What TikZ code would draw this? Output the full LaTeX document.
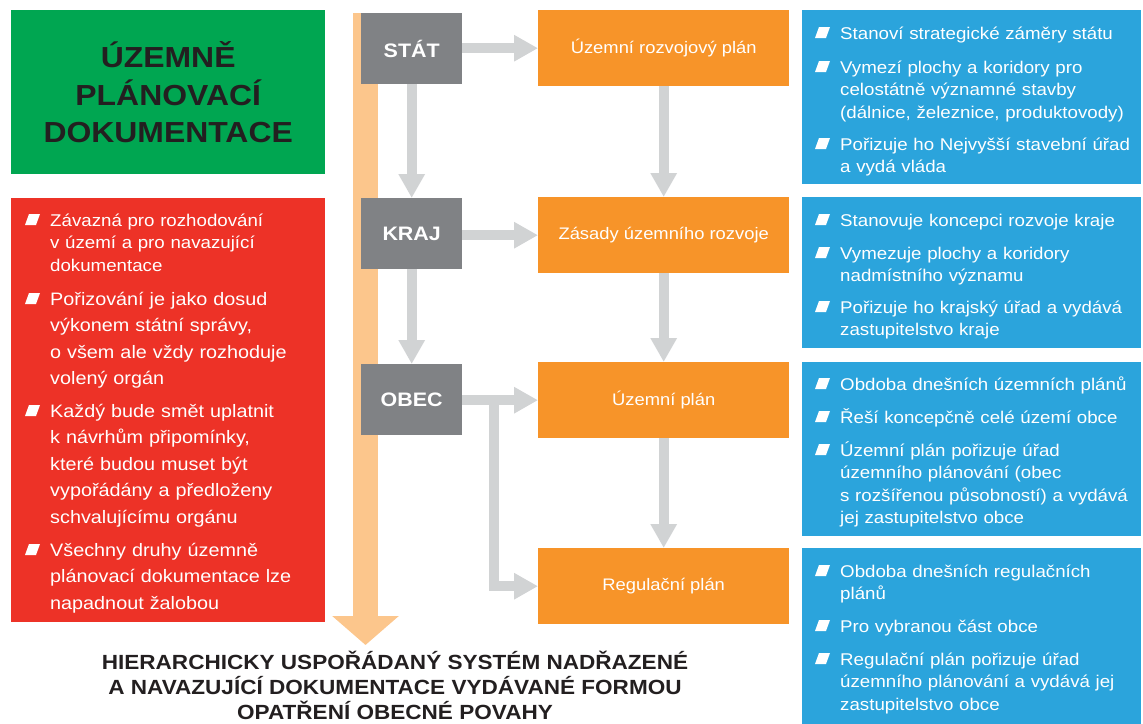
\documentclass[tikz,border=0pt]{standalone}
\usepackage{fontspec}
\setmainfont{Liberation Sans}[FakeStretch=1.1]
\usetikzlibrary{arrows.meta}

\definecolor{plangreen}{RGB}{0,166,81}
\definecolor{notered}{RGB}{237,50,39}
\definecolor{levelgray}{RGB}{128,130,133}
\definecolor{planorange}{RGB}{247,148,41}
\definecolor{flowbar}{RGB}{252,198,140}
\definecolor{infoblue}{RGB}{43,164,220}
\definecolor{arrowgray}{RGB}{209,211,212}
\definecolor{darktext}{RGB}{35,31,32}

\tikzset{
  box/.style={rectangle, inner sep=0pt, anchor=north west},
  level/.style={box, fill=levelgray, minimum width=101pt, minimum height=71pt,
    text=white, font=\fontsize{19.5}{24}\selectfont\bfseries},
  plan/.style={box, fill=planorange, minimum width=251pt, minimum height=76pt,
    text=white, font=\fontsize{16.7}{21}\selectfont},
  info/.style={box, fill=infoblue, minimum width=339pt},
  point/.style={anchor=base west, inner sep=0pt, text=white, align=left,
    text width=310pt, font=\fontsize{17}{22.5}\selectfont},
  loose/.style={font=\fontsize{18}{26.5}\selectfont},
  flow/.style={draw=arrowgray, line width=10pt, -{Triangle[length=24pt,width=25pt]}},
}

\begin{document}
\begin{tikzpicture}[x=1pt,y=-1pt]
  \useasboundingbox (0,0) rectangle (1143,723);
  \clip (0,0) rectangle (1143,723);

  % left column
  \node[box, fill=plangreen, minimum width=314pt, minimum height=164pt, text=darktext,
        align=center, font=\fontsize{29}{37.5}\selectfont\bfseries] (title) at (11,10)
        {ÚZEMNĚ\\PLÁNOVACÍ\\DOKUMENTACE};
  \node[box, fill=notered, minimum width=314pt, minimum height=424pt] (notes) at (11,198) {};
  \node[point, text width=280pt] (r1) at (50,226)
        {Závazná pro rozhodování\\v území a pro navazující\\dokumentace};
  \node[point, loose, text width=280pt] (r2) at (50,305)
        {Pořizování je jako dosud\\výkonem státní správy,\\o všem ale vždy rozhoduje\\volený orgán};
  \node[point, loose, text width=280pt] (r3) at (50,417)
        {Každý bude smět uplatnit\\k návrhům připomínky,\\které budou muset být\\vypořádány a předloženy\\schvalujícímu orgánu};
  \node[point, loose, text width=280pt] (r4) at (50,556)
        {Všechny druhy územně\\plánovací dokumentace lze\\napadnout žalobou};

  % hierarchy
  \coordinate (flowtop) at (365.5,13);
  \coordinate (flowend) at (365.5,645);
  \draw[draw=flowbar, line width=25pt, -{Triangle[length=29pt,width=65pt]}] (flowtop) -- (flowend);

  \node[level] (stat) at (361,13) {STÁT};
  \node[level] (kraj) at (361,198) {KRAJ};
  \node[level] (obec) at (361,364) {OBEC};

  \node[plan] (urp) at (538,10) {Územní rozvojový plán};
  \node[plan] (zur) at (538,197) {Zásady územního rozvoje};
  \node[plan] (up) at (538,362) {Územní plán};
  \node[plan] (rp) at (538,548) {Regulační plán};

  \draw[flow] (urp -| stat.east) -- (urp.west);
  \draw[flow] (zur -| kraj.east) -- (zur.west);
  \draw[flow] (up -| obec.east) -- (up.west);
  \coordinate (fork) at ([xshift=32pt]up -| obec.east);
  \draw[flow] (fork) |- (rp.west);
  \draw[flow] (stat) -- (kraj);
  \draw[flow] (kraj) -- (obec);
  \draw[flow] (urp) -- (zur);
  \draw[flow] (zur) -- (up);
  \draw[flow] (up) -- (rp);

  \node[anchor=north, inner sep=0pt, align=center, text=darktext,
        font=\fontsize{20.5}{25}\selectfont\bfseries] (summary) at (395,651)
        {HIERARCHICKY USPOŘÁDANÝ SYSTÉM NADŘAZENÉ\\A NAVAZUJÍCÍ DOKUMENTACE VYDÁVANÉ FORMOU\\OPATŘENÍ OBECNÉ POVAHY};

  % right column
  \node[info, minimum height=174pt] (istat) at (802,10) {};
  \node[info, minimum height=151pt] (ikraj) at (802,197) {};
  \node[info, minimum height=174pt] (iup) at (802,362) {};
  \node[info, minimum height=180pt] (irp) at (802,548) {};

  \node[point] (s1) at (840,39) {Stanoví strategické záměry státu};
  \node[point] (s2) at (840,73) {Vymezí plochy a koridory pro\\celostátně významné stavby\\(dálnice, železnice, produktovody)};
  \node[point] (s3) at (840,150) {Pořizuje ho Nejvyšší stavební úřad\\a vydá vláda};
  \node[point] (k1) at (840,226) {Stanovuje koncepci rozvoje kraje};
  \node[point] (k2) at (840,259) {Vymezuje plochy a koridory\\nadmístního významu};
  \node[point] (k3) at (840,313) {Pořizuje ho krajský úřad a vydává\\zastupitelstvo kraje};
  \node[point] (u1) at (840,390) {Obdoba dnešních územních plánů};
  \node[point] (u2) at (840,423) {Řeší koncepčně celé území obce};
  \node[point] (u3) at (840,456) {Územní plán pořizuje úřad\\územního plánování (obec\\s rozšířenou působností) a vydává\\jej zastupitelstvo obce};
  \node[point] (g1) at (840,577) {Obdoba dnešních regulačních\\plánů};
  \node[point] (g2) at (840,632) {Pro vybranou část obce};
  \node[point] (g3) at (840,665) {Regulační plán pořizuje úřad\\územního plánování a vydává jej\\zastupitelstvo obce};

  \foreach \i in {r1,r2,r3,r4,s1,s2,s3,k1,k2,k3,u1,u2,u3,g1,g2,g3}
    \fill[white] ([shift={(-25,-1)}]\i.base west) -- ++(11,0) -- ++(4,-11) -- ++(-11,0) -- cycle;
\end{tikzpicture}
\end{document}
